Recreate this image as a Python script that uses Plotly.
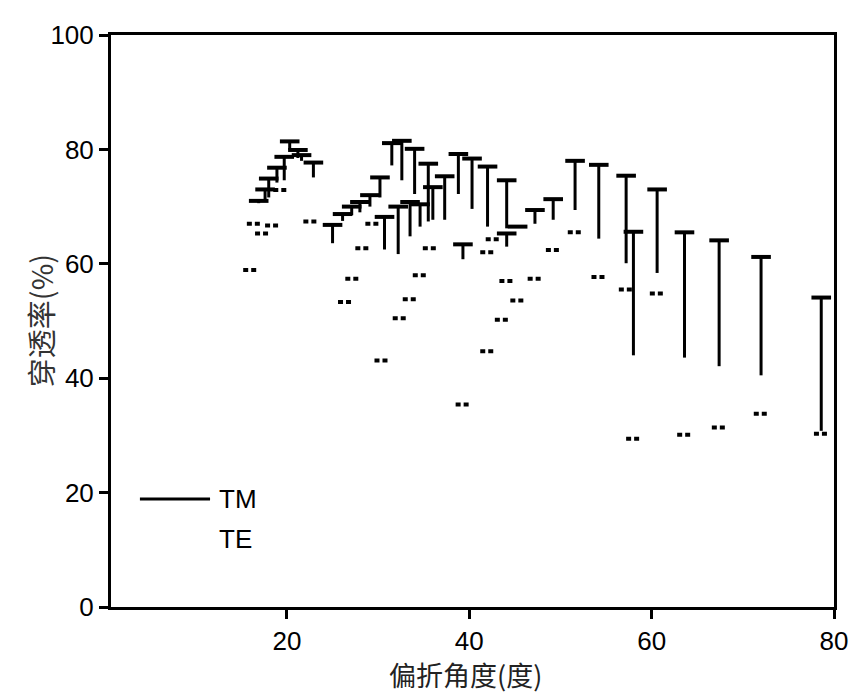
import plotly.graph_objects as go

# TM: deflection angle, top of bar (cap), lower end of bar
tm_angle = [16.9, 17.6, 18.0, 18.9, 19.7, 20.3, 21.2, 21.6, 22.9,
            25.0, 26.1, 27.1, 28.0, 29.1, 30.2, 30.7, 31.5, 32.2, 32.6, 33.5,
            34.0, 34.6, 35.5, 36.0, 37.3, 38.8, 39.3, 40.3, 42.0, 44.1, 44.1,
            45.3, 47.2, 49.2, 51.6, 54.2, 57.2, 58.0, 60.6, 63.6, 67.4, 72.0, 78.6]
tm_top = [71.0, 73.0, 74.9, 76.8, 78.7, 81.4, 79.9, 79.0, 77.7,
          66.8, 68.7, 70.0, 70.8, 72.0, 75.1, 68.2, 81.1, 70.0, 81.5, 70.8,
          80.1, 70.4, 77.5, 73.4, 75.3, 79.2, 63.4, 78.4, 77.0, 74.6, 65.3,
          66.5, 69.4, 71.3, 78.0, 77.3, 75.4, 65.6, 73.0, 65.5, 64.1, 61.2, 54.1]
tm_bottom = [70.6, 71.3, 71.6, 74.2, 74.6, 79.9, 78.5, 78.0, 75.1,
             63.6, 67.5, 68.5, 69.0, 70.0, 71.6, 62.5, 77.2, 61.7, 74.6, 64.8,
             72.2, 66.5, 67.4, 67.7, 67.7, 72.2, 60.8, 69.6, 66.5, 66.2, 63.0,
             66.3, 67.0, 67.7, 69.4, 64.4, 60.1, 44.0, 58.4, 43.6, 42.1, 40.5, 30.8]

# TE: deflection angle, transmittance
te_angle = [16.0, 16.4, 17.3, 18.4, 19.3, 22.6, 26.4, 27.2, 28.3, 29.4,
            30.4, 32.4, 33.5, 34.6, 35.7, 39.3, 42.0, 42.0, 42.6, 43.6,
            44.1, 45.3, 47.2, 49.2, 51.6, 54.2, 57.2, 58.0, 60.6, 63.6,
            67.4, 72.0, 78.6]
te_value = [58.9, 67.0, 65.3, 66.7, 72.9, 67.4, 53.3, 57.4, 62.7, 67.0,
            43.1, 50.5, 53.8, 58.0, 62.7, 35.4, 62.0, 44.7, 64.3, 50.2,
            57.0, 53.6, 57.4, 62.4, 65.5, 57.7, 55.5, 29.4, 54.8, 30.1,
            31.4, 33.8, 30.3]

x_ticks = [20, 40, 60, 80]
y_ticks = [0, 20, 40, 60, 80, 100]

TE_HALF = 0.8

seg_x, seg_y = [], []
for a, t, b in zip(tm_angle, tm_top, tm_bottom):
    seg_x += [a, a, None]
    seg_y += [t, b, None]

te_x, te_y = [], []
for a, v in zip(te_angle, te_value):
    te_x += [a - TE_HALF, a + TE_HALF, None]
    te_y += [v, v, None]

fig = go.Figure()
fig.add_trace(go.Scatter(x=seg_x, y=seg_y, mode="lines",
                         line=dict(color="black", width=3), showlegend=False,
                         hoverinfo="skip"))
fig.add_trace(go.Scatter(x=tm_angle, y=tm_top, mode="markers",
                         marker=dict(symbol="line-ew", size=14,
                                     line=dict(color="black", width=4)),
                         showlegend=False, name="TM"))
fig.add_trace(go.Scatter(x=te_x, y=te_y, mode="lines",
                         line=dict(color="black", width=4, dash="5px,3px"),
                         showlegend=False, name="TE"))

# legend (manual)
fig.add_shape(type="line", xref="paper", yref="paper",
              x0=0.040, x1=0.137, y0=0.189, y1=0.189,
              line=dict(color="black", width=3))
fig.add_annotation(xref="paper", yref="paper", x=0.146, y=0.189,
                   text="TM", showarrow=False, xanchor="left", yanchor="middle",
                   font=dict(family="Liberation Sans, Arial", size=26, color="black"))
fig.add_annotation(xref="paper", yref="paper", x=0.146, y=0.119,
                   text="TE", showarrow=False, xanchor="left", yanchor="middle",
                   font=dict(family="Liberation Sans, Arial", size=26, color="black"))

# axis titles
fig.add_annotation(xref="paper", yref="paper", x=0.49, y=-0.118,
                   text="偏折角度(度)", showarrow=False, xanchor="center", yanchor="middle",
                   font=dict(family="Noto Sans CJK SC", size=27, color="#222"))
fig.add_annotation(xref="paper", yref="paper", x=-0.098, y=0.5,
                   text="穿透率(%)", showarrow=False, xanchor="center", yanchor="middle",
                   textangle=-90,
                   font=dict(family="Noto Sans CJK SC", size=29, color="#333"))

axis_common = dict(showgrid=False, zeroline=False, showline=True, linecolor="black",
                   linewidth=3, mirror=True, ticks="outside", ticklen=9, tickwidth=2.5,
                   tickcolor="black",
                   tickfont=dict(family="Liberation Sans, Arial", size=26, color="black"))

fig.update_xaxes(range=[0.7, 80], tickvals=x_ticks, **axis_common)
fig.update_yaxes(range=[0, 100], tickvals=y_ticks, **axis_common)

fig.update_layout(width=859, height=697, plot_bgcolor="white", paper_bgcolor="white",
                  margin=dict(l=103, r=33, t=17, b=98))

fig.write_html("out.html")
